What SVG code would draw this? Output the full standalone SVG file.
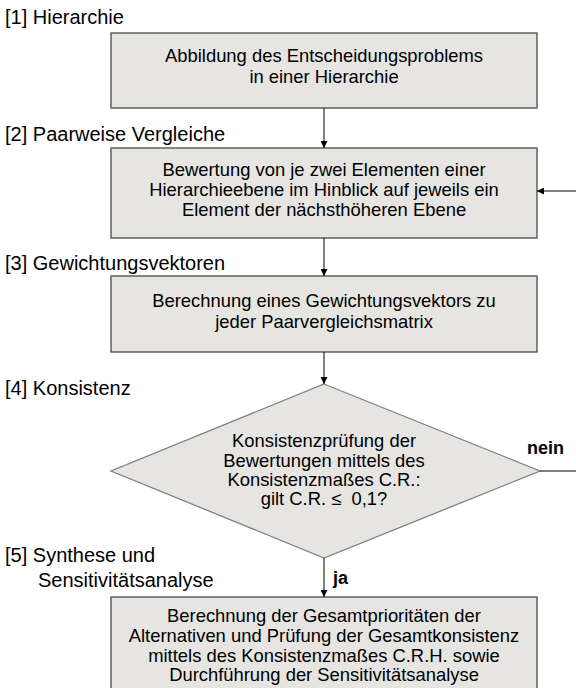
<svg xmlns="http://www.w3.org/2000/svg" width="576" height="688" viewBox="0 0 576 688">
<defs>
<marker id="ah" viewBox="0 0 10 10" refX="10" refY="5" markerWidth="7" markerHeight="7" markerUnits="userSpaceOnUse" orient="auto">
<path d="M0,0 L10,5 L0,10 z" fill="#000"/>
</marker>
<style>
.box{fill:#e6e5e2;stroke:#4a4a4a;stroke-width:1.3}
.dia{fill:#e6e5e2;stroke:#808080;stroke-width:1.3}
.t{font-family:"Liberation Sans",Arial,sans-serif;font-size:18.4px;fill:#000;text-anchor:middle}
.lab{font-family:"Liberation Sans",Arial,sans-serif;font-size:20px;fill:#000}
.b{font-weight:bold;font-size:18px}
.c{stroke:#000;stroke-width:1;fill:none}
</style>
</defs>
<rect width="576" height="688" fill="#fff"/>
<g id="labels">
<text class="lab" x="5" y="24">[1] Hierarchie</text>
<text class="lab" x="5" y="141">[2] Paarweise Vergleiche</text>
<text class="lab" x="5" y="270">[3] Gewichtungsvektoren</text>
<text class="lab" x="5" y="395">[4] Konsistenz</text>
<text class="lab" x="5" y="562">[5] Synthese und</text>
<text class="lab" x="38" y="587">Sensitivitätsanalyse</text>
</g>
<g id="n1">
<rect class="box" x="111" y="33" width="426" height="75"/>
<text class="t" x="324" y="62">Abbildung des Entscheidungsproblems</text>
<text class="t" x="324" y="83">in einer Hierarchie</text>
</g>
<g id="n2">
<rect class="box" x="111" y="148" width="426" height="90"/>
<text class="t" x="324" y="176">Bewertung von je zwei Elementen einer</text>
<text class="t" x="324" y="196">Hierarchieebene im Hinblick auf jeweils ein</text>
<text class="t" x="324" y="216">Element der nächsthöheren Ebene</text>
</g>
<g id="n3">
<rect class="box" x="111" y="276" width="426" height="76"/>
<text class="t" x="324" y="307">Berechnung eines Gewichtungsvektors zu</text>
<text class="t" x="324" y="328">jeder Paarvergleichsmatrix</text>
</g>
<g id="n4">
<polygon class="dia" points="324,384 540,471 324,558 111,471"/>
<text class="t" x="324" y="447">Konsistenzprüfung der</text>
<text class="t" x="324" y="467">Bewertungen mittels des</text>
<text class="t" x="324" y="486">Konsistenzmaßes C.R.:</text>
<text class="t" x="324" y="505">gilt C.R. ≤&#160; 0,1?</text>
</g>
<g id="n5">
<rect class="box" x="111" y="597" width="426" height="100"/>
<text class="t" x="324" y="622">Berechnung der Gesamtprioritäten der</text>
<text class="t" x="324" y="642">Alternativen und Prüfung der Gesamtkonsistenz</text>
<text class="t" x="324" y="662">mittels des Konsistenzmaßes C.R.H. sowie</text>
<text class="t" x="324" y="681">Durchführung der Sensitivitätsanalyse</text>
</g>
<g id="connectors">
<line class="c" x1="324" y1="108" x2="324" y2="148" marker-end="url(#ah)"/>
<line class="c" x1="324" y1="238" x2="324" y2="276" marker-end="url(#ah)"/>
<line class="c" x1="324" y1="352" x2="324" y2="384" marker-end="url(#ah)"/>
<line class="c" x1="324" y1="558" x2="324" y2="597" marker-end="url(#ah)"/>
<line class="c" x1="540" y1="471" x2="576" y2="471"/>
<line class="c" x1="576" y1="191" x2="537" y2="191" marker-end="url(#ah)"/>
<text class="lab b" x="527" y="454">nein</text>
<text class="lab b" x="333" y="584">ja</text>
</g>
</svg>
